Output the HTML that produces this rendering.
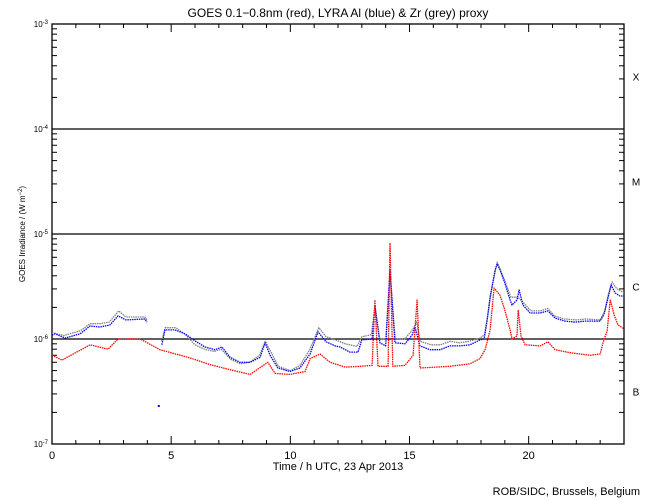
<!DOCTYPE html>
<html><head><meta charset="utf-8"><style>
html,body{margin:0;padding:0;background:#fff;}
svg{display:block;font-family:"Liberation Sans",sans-serif;}
</style></head><body>
<svg id="chart" width="650" height="500" viewBox="0 0 650 500" xmlns="http://www.w3.org/2000/svg">
<rect width="650" height="500" fill="#fff"/>
<text x="338" y="17" font-size="12" text-anchor="middle" fill="#000">GOES 0.1−0.8nm (red), LYRA Al (blue) &amp; Zr (grey) proxy</text>
<text x="338" y="470" font-size="11" text-anchor="middle" fill="#000">Time / h UTC, 23 Apr 2013</text>
<text transform="translate(25,234) rotate(-90)" font-size="8" text-anchor="middle" fill="#000">GOES Irradiance / (W m<tspan dy="-3" font-size="6">−2</tspan><tspan dy="3">)</tspan></text>
<text x="640" y="495" font-size="11" text-anchor="end" fill="#000">ROB/SIDC, Brussels, Belgium</text>
<g id="axes"></g>
<g id="series"></g>
</svg>
<script>
const xTicks = [0, 5, 10, 15, 20];
const yDecades = [-7, -6, -5, -4, -3];
const classLabels = ["B", "C", "M", "X"];
const gTime = [0,0.42,1.6,2.35,2.77,3.7,4.53,5.79,6.63,7.47,8.31,9.06,9.36,9.99,10.62,10.83,11.25,11.67,12.3,12.92,13.43,13.55,13.68,14.1,14.18,14.3,14.81,15.15,15.32,15.44,16.7,17.54,17.96,18.17,18.38,18.55,18.8,19.0,19.22,19.3,19.51,19.56,19.68,19.85,20.48,20.81,21.11,21.74,22.58,23.0,23.12,23.29,23.42,23.59,23.75,24];
const gFlux = [0.70,0.63,0.88,0.80,1.0,1.0,0.79,0.66,0.57,0.51,0.46,0.60,0.47,0.46,0.49,0.65,0.72,0.60,0.54,0.55,0.56,2.35,0.55,0.55,8.2,0.55,0.56,0.70,2.35,0.53,0.55,0.58,0.65,0.79,1.22,3.06,2.6,1.89,1.22,1.0,1.07,1.89,1.07,0.88,0.86,0.94,0.79,0.74,0.70,0.72,0.92,1.19,2.35,1.69,1.36,1.25];
const aTime = [0,0.13,0.55,1.18,1.6,2.01,2.43,2.77,3.1,3.9,3.98,null,4.61,4.74,5.16,5.58,6.0,6.42,6.84,7.13,7.47,7.89,8.31,8.73,8.94,9.15,9.48,9.99,10.4,10.83,11.16,11.5,11.88,12.09,12.5,12.84,13.0,13.43,13.55,13.76,14.0,14.18,14.39,14.81,15.11,15.23,15.44,15.86,16.28,16.7,17.12,17.54,17.96,18.13,18.26,18.38,18.59,18.68,18.8,19.0,19.22,19.3,19.51,19.6,19.76,20.06,20.48,20.81,21.11,21.53,21.95,22.37,23.0,23.16,23.33,23.46,23.63,23.83,24];
const aFlux = [1.09,1.12,1.02,1.12,1.33,1.30,1.36,1.66,1.52,1.55,1.45,null,0.88,1.22,1.22,1.12,0.96,0.84,0.79,0.84,0.67,0.60,0.60,0.67,0.92,0.70,0.53,0.49,0.53,0.72,1.17,0.94,0.86,0.84,0.75,0.75,0.98,1.0,2.11,0.92,0.86,4.54,0.92,0.90,1.09,1.30,0.86,0.79,0.79,0.86,0.86,0.88,0.98,1.0,1.52,2.51,4.54,5.18,4.54,3.42,2.35,2.11,2.35,2.93,2.11,1.77,1.77,1.85,1.58,1.48,1.45,1.48,1.48,1.73,2.46,3.27,2.74,2.57,2.57];
const aDipTime = [4.48];
const aDipFlux = [0.23];
const zTime = [0,0.5,1.2,1.6,2.0,2.4,2.8,3.1,3.9,4.0,null,4.6,4.75,5.2,5.6,6.0,6.4,6.8,7.1,7.5,7.9,8.3,8.7,8.95,9.2,9.5,10.0,10.4,10.8,11.2,11.5,11.9,12.3,12.8,13.0,13.4,13.55,13.75,14.0,14.18,14.4,14.8,15.1,15.3,15.45,15.9,16.3,16.7,17.1,17.5,17.95,18.15,18.3,18.45,18.68,18.8,19.0,19.25,19.55,19.8,20.1,20.5,20.8,21.1,21.5,22.0,22.4,23.0,23.2,23.35,23.5,23.7,24];
const zFlux = [1.15,1.08,1.2,1.40,1.40,1.45,1.85,1.62,1.62,1.50,null,0.95,1.28,1.28,1.10,0.88,0.80,0.76,0.80,0.64,0.58,0.60,0.70,0.95,0.74,0.55,0.50,0.56,0.78,1.28,1.05,0.98,0.90,0.85,1.05,1.10,2.0,1.0,1.0,4.2,1.0,1.0,1.2,1.45,0.95,0.88,0.88,0.95,0.92,0.95,1.02,1.1,1.8,3.0,5.4,4.6,3.6,2.5,2.5,2.2,1.85,1.85,1.95,1.65,1.55,1.52,1.55,1.52,1.85,2.7,3.5,3.0,2.75];

const X0=52,X1=624,Y0=24,Y1=444;
const xs = t => X0 + (t/24)*(X1-X0);
const ys = f => Y1 - (Math.log10(f) + 7) / 4 * (Y1-Y0);
const NS="http://www.w3.org/2000/svg";
function mk(tag, attrs, parent){const e=document.createElementNS(NS,tag);for(const k in attrs)e.setAttribute(k,attrs[k]);parent.appendChild(e);return e;}
const axes=document.getElementById('axes');
const frame = mk('rect',{x:X0,y:Y0,width:X1-X0,height:Y1-Y0,fill:'none',stroke:'#000','stroke-width':1.3},axes);


for(let h=0;h<=24;h++){
  const len = (h%5===0)?8:4;
  const x=xs(h);
  const t1=mk('line',{x1:x,y1:Y1,x2:x,y2:Y1-len,stroke:'#000','stroke-width':1},axes);
  
  
  mk('line',{x1:x,y1:Y0,x2:x,y2:Y0+len,stroke:'#000','stroke-width':1},axes);
}
xTicks.forEach(v=>{
  const t=mk('text',{x:xs(v),y:Y1+15,'font-size':11,'text-anchor':'middle'},axes);
  t.textContent=v;
  
  
});
yDecades.forEach((d,i)=>{
  const y=ys(Math.pow(10,d));
  if(d>-7 && d<-3){
    const gl=mk('line',{x1:X0,y1:y,x2:X1,y2:y,stroke:'#000','stroke-width':1.3},axes);
    
    
  }
  const t=mk('text',{x:X0-4,y:y+3,'font-size':8,'text-anchor':'end'},axes);
  t.innerHTML='10<tspan dy="-3" font-size="6">'+d+'</tspan>';
  
  
  if(i<4){
    for(let m=2;m<=9;m++){
      const yy=ys(m*Math.pow(10,d));
      mk('line',{x1:X0,y1:yy,x2:X0+5,y2:yy,stroke:'#000','stroke-width':1},axes);
      mk('line',{x1:X1,y1:yy,x2:X1-5,y2:yy,stroke:'#000','stroke-width':1},axes);
    }
    const cl=mk('text',{x:X1+12,y:ys(Math.pow(10,d+0.5))+4,'font-size':10,'text-anchor':'middle'},axes);
    cl.textContent=classLabels[i];
    
    
  }
});
const series=document.getElementById('series');
function drawLine(ts,fs,color,name,w){
  let segs=[],cur=[];
  ts.forEach((t,i)=>{ if(t===null||fs[i]===null){ if(cur.length)segs.push(cur); cur=[]; } else cur.push(xs(t).toFixed(1)+','+ys(fs[i]*1e-6).toFixed(1)); });
  if(cur.length)segs.push(cur);
  segs.forEach(s=>{
    const p=mk('polyline',{points:s.join(' '),fill:'none',stroke:color,'stroke-width':w,'stroke-dasharray':'1.5 0.8','stroke-linejoin':'round'},series);
    
    
  });
}
drawLine(zTime,zFlux,'#808080','zr-proxy-series',1.3);
drawLine(aTime,aFlux,'#0000ff','al-proxy-series',1.3);
drawLine(gTime,gFlux,'#ff0000','goes-series',1.3);
aDipTime.forEach((t,i)=>{
  const r=mk('rect',{x:xs(t)-1,y:ys(aDipFlux[i]*1e-6)-1,width:2,height:2,fill:'#0000ff'},series);
  
  
});
</script>
</body></html>
